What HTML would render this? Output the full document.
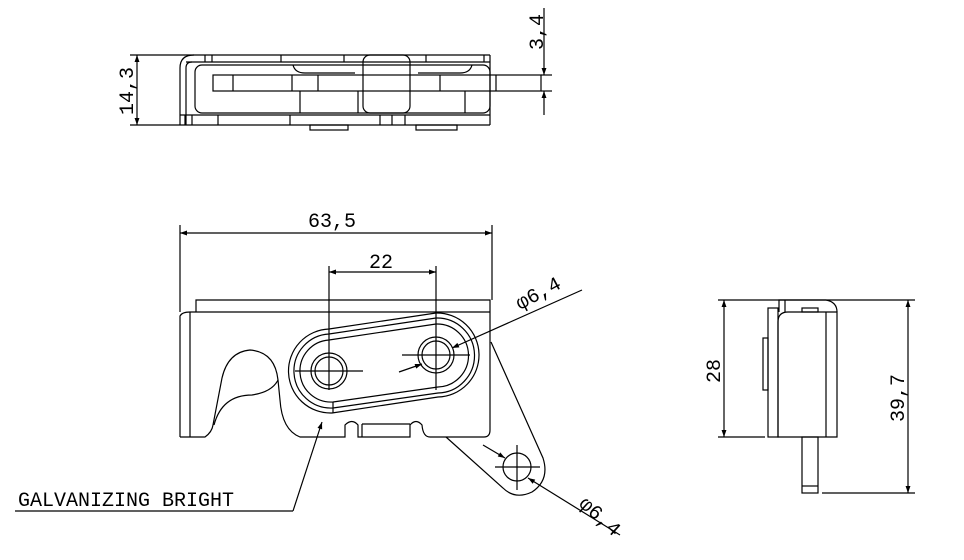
<!DOCTYPE html>
<html><head><meta charset="utf-8"><style>
html,body{margin:0;padding:0;background:#fff;}
svg{display:block}
text{font-family:"Liberation Mono",monospace;fill:#000;}
</style></head><body>
<svg width="964" height="560" viewBox="0 0 964 560" xmlns="http://www.w3.org/2000/svg">
<defs>
<marker id="a" viewBox="0 0 10 10" refX="10" refY="5" markerWidth="10" markerHeight="7" orient="auto-start-reverse" markerUnits="userSpaceOnUse"><path d="M0,1.5 L10,5 L0,8.5 z" fill="#000"/></marker>
</defs>
<g fill="none" stroke="#000" stroke-width="1.2">
<!-- TOP VIEW -->
<line x1="130" y1="55" x2="490" y2="55"/>
<line x1="130" y1="125" x2="490" y2="125"/>
<line x1="137" y1="55" x2="137" y2="125" marker-start="url(#a)" marker-end="url(#a)"/>
<path d="M180,125 V68 Q180,55 194,55"/>
<line x1="490" y1="55" x2="490" y2="125"/>
<line x1="186" y1="62" x2="490" y2="62"/>
<path d="M186,125 V68 Q186,62 192,62"/>
<rect x="195" y="65" width="295" height="48" rx="7"/>
<rect x="213" y="75" width="328" height="16"/>
<line x1="180" y1="115" x2="490" y2="115"/>
<rect x="363" y="55" width="47" height="58" rx="7"/>
<line x1="300" y1="91" x2="300" y2="113"/><line x1="358" y1="91" x2="358" y2="113"/>
<line x1="465" y1="91" x2="465" y2="113"/>
<line x1="233" y1="75" x2="233" y2="91"/><line x1="292" y1="75" x2="292" y2="91"/>
<line x1="318" y1="75" x2="318" y2="91"/><line x1="440" y1="75" x2="440" y2="91"/><line x1="496" y1="75" x2="496" y2="91"/>
<path d="M293,65 Q295,73 305,73 H355"/><path d="M418,73 H460 Q470,73 472,65"/>
<line x1="205" y1="55" x2="205" y2="62"/><line x1="212" y1="55" x2="212" y2="62"/><line x1="281" y1="55" x2="281" y2="62"/><line x1="344" y1="55" x2="344" y2="62"/><line x1="426" y1="55" x2="426" y2="62"/><line x1="484" y1="55" x2="484" y2="62"/>
<line x1="185" y1="115" x2="185" y2="125"/><line x1="192" y1="115" x2="192" y2="125"/><line x1="218" y1="115" x2="218" y2="125"/><line x1="290" y1="115" x2="290" y2="125"/><line x1="380" y1="115" x2="380" y2="125"/><line x1="392" y1="115" x2="392" y2="125"/><line x1="405" y1="115" x2="405" y2="125"/>
<rect x="310" y="125" width="38" height="5"/><rect x="416" y="125" width="41" height="5"/>
<line x1="541" y1="75" x2="552" y2="75"/><line x1="541" y1="91" x2="552" y2="91"/>
<line x1="544" y1="8" x2="544" y2="75" marker-end="url(#a)"/>
<line x1="544" y1="115" x2="544" y2="91" marker-end="url(#a)"/>

<!-- FRONT VIEW -->
<line x1="180" y1="225" x2="180" y2="312"/><line x1="492" y1="225" x2="492" y2="300"/>
<line x1="180" y1="233" x2="492" y2="233" marker-start="url(#a)" marker-end="url(#a)"/>
<line x1="329" y1="266" x2="329" y2="390"/><line x1="436" y1="266" x2="436" y2="390"/>
<line x1="329" y1="272" x2="436" y2="272" marker-start="url(#a)" marker-end="url(#a)"/>
<path d="M196,312 V300 H490 V312"/>
<path d="M180,437 V316 Q182,312 190,312 H490"/>
<line x1="190" y1="312" x2="190" y2="437"/>
<path d="M180,437 H205 Q212,432 213,425 L222,378 Q228,352 250,350 Q275,352 278,380 L280,400 Q282,430 300,437 H345 V425 Q352,418 358,425 V437 H410 V425 Q416,418 422,425 Q423,437 430,437 H484 Q490,437 490,430 V312"/>
<path d="M214,425 Q222,395 252,395 Q272,392 278,380"/>
<line x1="362" y1="424" x2="362" y2="437"/><line x1="410" y1="424" x2="362" y2="424"/>
<!-- slot -->
<path d="M332,413 L438,397 A42,42 0 0 0 436,313 L329,329 A42,42 0 0 0 332,413 Z"/>
<path d="M333,408 L438,393 A37,37 0 0 0 436,318 L329,334 A37,37 0 0 0 333,408 Z"/>
<path d="M333,402 L438,387 A31,31 0 0 0 436,324 L329,340 A31,31 0 0 0 333,402 Z"/>
<line x1="333" y1="402" x2="333" y2="413"/>
<circle cx="329" cy="371" r="18"/><circle cx="329" cy="371" r="14"/>
<circle cx="436" cy="355" r="18"/><circle cx="436" cy="355" r="14"/>
<line x1="295" y1="371" x2="363" y2="371"/><line x1="402" y1="355" x2="470" y2="355"/>
<line x1="399" y1="372" x2="422" y2="364" marker-end="url(#a)"/>
<line x1="582" y1="290" x2="452" y2="348" marker-end="url(#a)"/>
<!-- arm -->
<path d="M491,342 L543,458 Q550,480 532,492 Q515,500 503,488 L446,437"/>
<circle cx="517" cy="467" r="14"/>
<line x1="495" y1="467" x2="540" y2="467"/><line x1="517" y1="445" x2="517" y2="490"/>
<line x1="483" y1="445" x2="505" y2="458" marker-end="url(#a)"/>
<line x1="620" y1="535" x2="528" y2="478" marker-end="url(#a)"/>
<!-- leader -->
<line x1="293" y1="511" x2="322" y2="422" marker-end="url(#a)"/>
<line x1="15" y1="511" x2="293" y2="511"/>

<!-- SIDE VIEW -->
<line x1="718" y1="300" x2="915" y2="300"/>
<line x1="718" y1="437" x2="765" y2="437"/>
<line x1="822" y1="493" x2="915" y2="493"/>
<line x1="724" y1="300" x2="724" y2="437" marker-start="url(#a)" marker-end="url(#a)"/>
<line x1="908" y1="300" x2="908" y2="493" marker-start="url(#a)" marker-end="url(#a)"/>
<rect x="768" y="308" width="10" height="129"/>
<rect x="763" y="338" width="5" height="52"/>
<path d="M779,312 V300 H826 Q837,302 837,312"/>
<line x1="785" y1="300" x2="785" y2="312"/>
<path d="M778,437 H837 V312 H788 Q778,312 778,322 Z"/>
<line x1="826" y1="312" x2="826" y2="437"/>
<rect x="802" y="308" width="16" height="4"/>
<rect x="802" y="437" width="16" height="56"/>
<line x1="802" y1="486" x2="818" y2="486"/>
</g>
<g font-size="20">
<text x="0" y="0" transform="translate(133,115) rotate(-90)">14,3</text>
<text x="0" y="0" transform="translate(543,50) rotate(-90)">3,4</text>
<text x="308" y="227">63,5</text>
<text x="369" y="268">22</text>
<text x="0" y="0" transform="translate(520,310) rotate(-28)">φ6,4</text>
<text x="0" y="0" transform="translate(578,505) rotate(42)">φ6,4</text>
<text x="0" y="0" transform="translate(720,383) rotate(-90)">28</text>
<text x="0" y="0" transform="translate(904,422) rotate(-90)">39,7</text>
<text x="18" y="506">GALVANIZING BRIGHT</text>
</g>
</svg>
</body></html>
